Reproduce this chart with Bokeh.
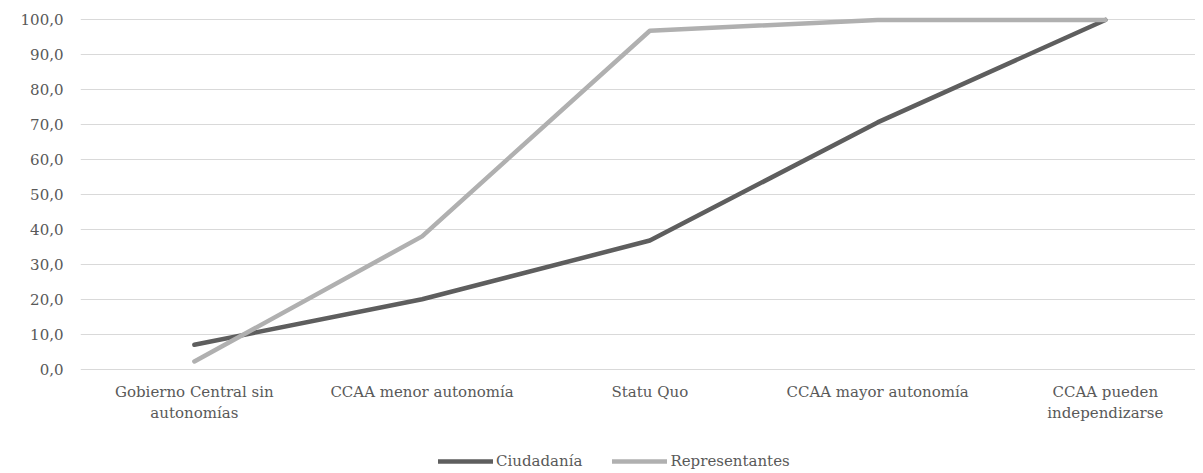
from bokeh.plotting import figure
from bokeh.models import FixedTicker, Range1d, Legend, LegendItem
from bokeh.layouts import column
from bokeh.embed import file_html
from bokeh.resources import INLINE

categories = ["Gobierno Central sin\nautonomías", "CCAA menor autonomía", "Statu Quo",
              "CCAA mayor autonomía", "CCAA pueden\nindependizarse"]
ciudadania = [7.1, 20.1, 36.9, 70.7, 100.0]
representantes = [2.3, 38.1, 96.9, 100.0, 100.0]
series_names = ["Ciudadanía", "Representantes"]
y_ticks = [0, 10, 20, 30, 40, 50, 60, 70, 80, 90, 100]

FONT = "DejaVu Serif"
TXT = "#595959"
FS = "15px"
C_DARK = "#5e5e5e"
C_LIGHT = "#b0b0b0"
x = list(range(len(categories)))

p = figure(width=1195, height=425, output_backend="svg", toolbar_location=None,
           x_range=Range1d(-0.5, 4.396), y_range=Range1d(-1.13, 102.13),
           min_border_left=80, min_border_right=0, min_border_top=12, min_border_bottom=49)
p.outline_line_color = None
p.xgrid.grid_line_color = None
p.ygrid.grid_line_color = "#d9d9d9"
p.ygrid.grid_line_width = 1
p.yaxis.ticker = FixedTicker(ticks=y_ticks)
p.yaxis.major_label_overrides = {t: f"{t:.1f}".replace(".", ",") for t in y_ticks}
p.xaxis.ticker = FixedTicker(ticks=x)
p.xaxis.major_label_overrides = {i: c for i, c in enumerate(categories)}
for ax in (p.xaxis, p.yaxis):
    ax.axis_line_color = None
    ax.major_tick_line_color = None
    ax.minor_tick_line_color = None
    ax.major_tick_out = 0
    ax.major_label_text_font = FONT
    ax.major_label_text_font_size = FS
    ax.major_label_text_color = TXT
p.yaxis.major_label_standoff = 17
p.xaxis.major_label_standoff = 9

p.line(x, ciudadania, line_color=C_DARK, line_width=4.5, line_cap="round", line_join="round")
p.line(x, representantes, line_color=C_LIGHT, line_width=4.5, line_cap="round", line_join="round")

# legend strip below the chart (its lines lie outside the strip's visible range)
lg = figure(width=1195, height=48, output_backend="svg", toolbar_location=None,
            x_range=Range1d(-100, -99), y_range=Range1d(-100, -99),
            x_axis_type=None, y_axis_type=None,
            min_border_left=0, min_border_right=0, min_border_top=0, min_border_bottom=0)
lg.outline_line_color = None
lg.xgrid.grid_line_color = None
lg.ygrid.grid_line_color = None
k1 = lg.line(x, ciudadania, line_color=C_DARK, line_width=4.5, line_cap="round")
k2 = lg.line(x, representantes, line_color=C_LIGHT, line_width=4.5, line_cap="round")
legend = Legend(items=[LegendItem(label=series_names[0], renderers=[k1]),
                       LegendItem(label=series_names[1], renderers=[k2])],
                orientation="horizontal", location=(358, 2))
legend.label_text_font = FONT
legend.label_text_font_size = FS
legend.label_text_color = TXT
legend.glyph_width = 55
legend.glyph_height = 20
legend.label_standoff = 3
legend.spacing = 30
legend.padding = 0
legend.margin = 0
legend.border_line_color = None
legend.background_fill_alpha = 0
lg.add_layout(legend, "center")

open("out.html", "w").write(file_html(column(p, lg, spacing=0), INLINE))
